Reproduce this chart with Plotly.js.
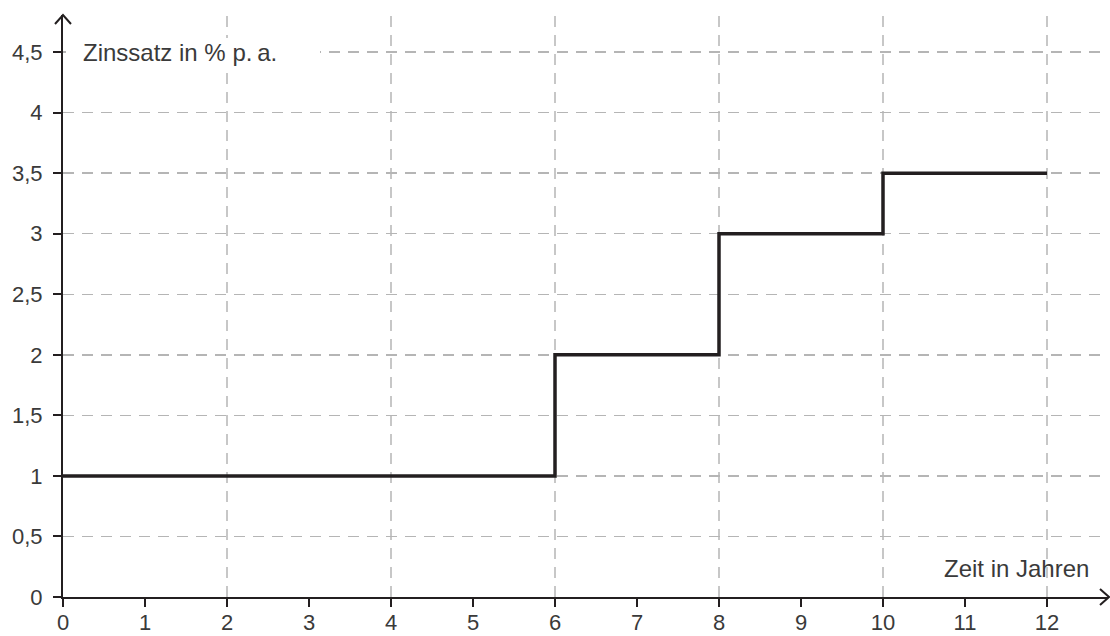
<!DOCTYPE html>
<html>
<head>
<meta charset="utf-8">
<script src="https://cdn.plot.ly/plotly-3.0.1.min.js"></script>
<style>html,body{margin:0;padding:0;background:#fff;}#chart{width:1110px;height:636px;}</style>
</head>
<body>
<div id="chart"></div>
<script>
// Data
const years = [0, 6, 8, 10, 12];
const rates = [1, 2, 3, 3.5, 3.5];
const xTickVals = [0,1,2,3,4,5,6,7,8,9,10,11,12];
const xTickText = ['0','1','2','3','4','5','6','7','8','9','10','11','12'];
const yTickVals = [0,0.5,1,1.5,2,2.5,3,3.5,4,4.5];
const yTickText = ['0','0,5','1','1,5','2','2,5','3','3,5','4','4,5'];
const xGridVals = [2,4,6,8,10,12];
const yLabel = 'Zinssatz in % p.\u2009a.';
const xLabel = 'Zeit in Jahren';

const W = 1110, H = 636;
const M = {l: 63, r: 2, t: 15, b: 39};
const pw = W - M.l - M.r, ph = H - M.t - M.b;
const xMax = pw / 82, yMax = ph / 121.1;
const px = p => (p - M.l) / pw;          // pixel x -> paper
const py = p => (H - M.b - p) / ph;      // pixel y -> paper

const ink = '#231f20';
const gridCol = '#b5b5b5';
const dash = '11px,8px';

const shapes = [];
xGridVals.forEach(v => shapes.push({
  type: 'line', xref: 'x', yref: 'paper', x0: v, x1: v, y0: 0, y1: 1,
  layer: 'below', line: {color: gridCol, width: 1.5, dash: dash}
}));
// white box behind y label
shapes.push({type: 'rect', xref: 'paper', yref: 'paper',
  x0: px(66), x1: px(320), y0: py(70), y1: py(38),
  fillcolor: '#ffffff', line: {width: 0}, layer: 'above'});
// arrowheads
shapes.push({type: 'path', xref: 'paper', yref: 'paper',
  path: `M ${px(1100)} ${py(589)} L ${px(1109)} ${py(597)} L ${px(1100)} ${py(605)}`,
  line: {color: ink, width: 2}, layer: 'above'});
shapes.push({type: 'path', xref: 'paper', yref: 'paper',
  path: `M ${px(55)} ${py(24)} L ${px(63)} ${py(15)} L ${px(71)} ${py(24)}`,
  line: {color: ink, width: 2}, layer: 'above'});

const tickFont = {family: 'Liberation Sans, Arial, sans-serif', size: 22, color: '#3a3a3a'};

const trace = {
  x: years, y: rates, type: 'scatter', mode: 'lines',
  line: {shape: 'hv', color: ink, width: 3.5},
  hoverinfo: 'skip', cliponaxis: false
};

const layout = {
  width: W, height: H,
  margin: M,
  paper_bgcolor: '#fff', plot_bgcolor: '#fff',
  showlegend: false,
  xaxis: {
    range: [0, xMax], tickmode: 'array', tickvals: xTickVals, ticktext: xTickText,
    showgrid: false, zeroline: false, showline: true, linecolor: ink, linewidth: 2,
    ticks: 'outside', ticklen: 8, tickwidth: 2, tickcolor: ink,
    tickfont: tickFont, fixedrange: true, ticklabelstandoff: -3
  },
  yaxis: {
    range: [0, yMax], tickmode: 'array', tickvals: yTickVals, ticktext: yTickText,
    showgrid: true, gridcolor: gridCol, gridwidth: 1.5, griddash: dash,
    zeroline: false, showline: true, linecolor: ink, linewidth: 2,
    ticks: 'outside', ticklen: 8, tickwidth: 2, tickcolor: ink,
    tickfont: tickFont, fixedrange: true, ticklabelstandoff: 6
  },
  shapes: shapes,
  annotations: [
    {text: yLabel, xref: 'paper', yref: 'y', x: px(81), y: 4.5,
     xanchor: 'left', yanchor: 'middle', showarrow: false,
     font: {family: 'Liberation Sans, Arial, sans-serif', size: 24, color: '#3a3a3a'}},
    {text: xLabel, xref: 'paper', yref: 'paper', x: px(1091), y: py(568),
     xanchor: 'right', yanchor: 'middle', showarrow: false,
     font: {family: 'Liberation Sans, Arial, sans-serif', size: 24, color: '#3a3a3a'}}
  ]
};

Plotly.newPlot('chart', [trace], layout, {displayModeBar: false, staticPlot: true});
</script>
</body>
</html>
